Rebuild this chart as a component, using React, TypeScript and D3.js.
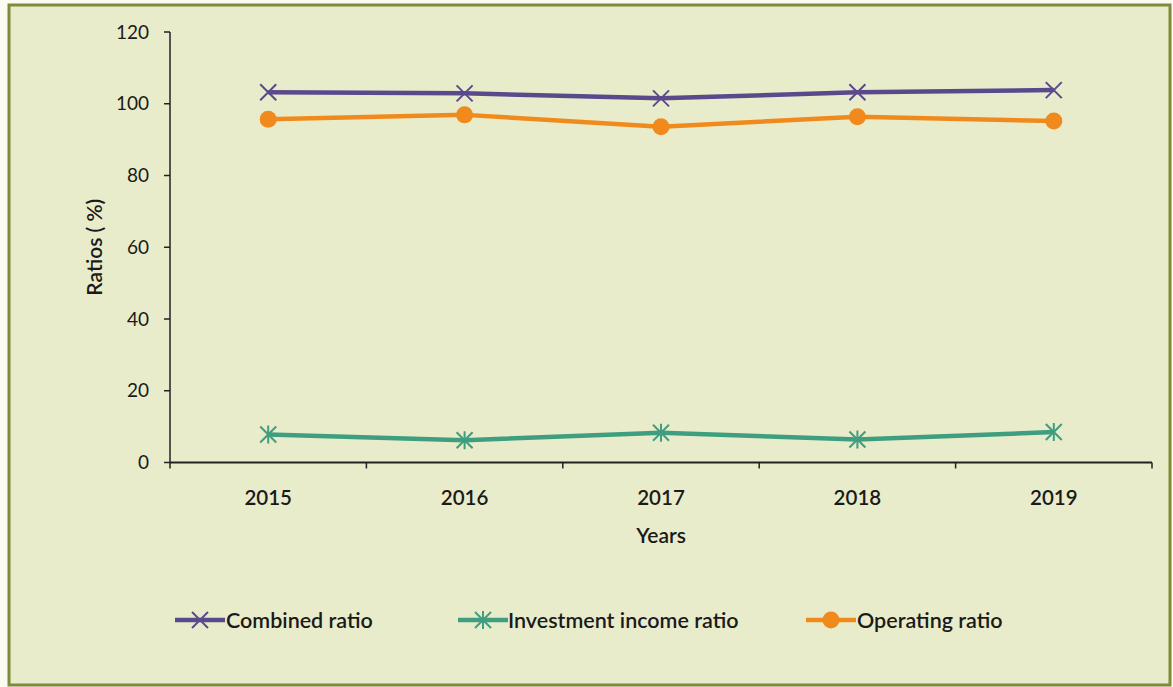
import React from "react";
import * as d3 from "d3";

const years = ["2015", "2016", "2017", "2018", "2019"];
const combinedRatio = [103.2, 102.9, 101.5, 103.2, 103.8];
const investmentIncomeRatio = [7.8, 6.2, 8.3, 6.4, 8.5];
const operatingRatio = [95.7, 96.9, 93.6, 96.4, 95.2];
const yTicks = [0, 20, 40, 60, 80, 100, 120];

const series = [
  { name: "Combined ratio", values: combinedRatio, color: "#5a4a8c", marker: "x" },
  { name: "Investment income ratio", values: investmentIncomeRatio, color: "#3e9e7f", marker: "star" },
  { name: "Operating ratio", values: operatingRatio, color: "#f08a1c", marker: "circle" },
];

const FONT = "Lato, 'Open Sans', sans-serif";

function Marker({ type, x, y, color }: { type: string; x: number; y: number; color: string }) {
  const s = 8;
  if (type === "circle") return <circle cx={x} cy={y} r={8.5} fill={color} />;
  const paths = [
    <line key="a" x1={x - s} y1={y - s} x2={x + s} y2={y + s} stroke={color} strokeWidth={2} />,
    <line key="b" x1={x - s} y1={y + s} x2={x + s} y2={y - s} stroke={color} strokeWidth={2} />,
  ];
  if (type === "star")
    paths.push(<line key="c" x1={x} y1={y - s - 1} x2={x} y2={y + s + 1} stroke={color} strokeWidth={2} />);
  return <g>{paths}</g>;
}

export default function App() {
  const W = 1173, H = 687;
  const x0 = 170, x1 = 1152;
  const yTop = 32, yBot = 462.5;
  const x = d3.scaleBand<string>().domain(years).range([x0, x1]);
  const y = d3.scaleLinear().domain([0, 120]).range([yBot, yTop]);
  const line = d3.line<number>().x((_, i) => x(years[i])! + x.bandwidth() / 2).y((v) => y(v));
  const legend = [
    { lx: 175, tx: 226 },
    { lx: 458, tx: 508 },
    { lx: 806, tx: 857 },
  ];
  return (
    <svg width={W} height={H} style={{ position: "absolute", left: 0, top: 0 }}>
      <rect x={0} y={0} width={W} height={H} fill="#fbfbf2" />
      <rect x={9} y={5} width={1161} height={680} fill="#e9ecca" stroke="#7c8c3a" strokeWidth={3} />
      {/* y axis */}
      <line x1={x0} y1={yTop} x2={x0} y2={yBot} stroke="#222" strokeWidth={1.5} />
      {yTicks.map((t) => (
        <g key={t}>
          <line x1={x0 - 6} x2={x0} y1={y(t)} y2={y(t)} stroke="#222" strokeWidth={1.5} />
          <text x={x0 - 21} y={y(t)} dy="0.35em" textAnchor="end" fontFamily={FONT} fontSize={19} fill="#1a1a1a">
            {t}
          </text>
        </g>
      ))}
      {/* x axis */}
      <line x1={x0} y1={yBot} x2={x1} y2={yBot} stroke="#222" strokeWidth={2} />
      {years.concat(["end"]).map((_, i) => {
        const xx = x0 + i * x.step();
        return <line key={i} x1={xx} x2={xx} y1={yBot} y2={yBot + 6} stroke="#222" strokeWidth={1.5} />;
      })}
      {years.map((yr) => (
        <text key={yr} x={x(yr)! + x.bandwidth() / 2} y={505} textAnchor="middle" fontFamily={FONT} fontWeight={600} fontSize={20.5} fill="#1a1a1a">
          {yr}
        </text>
      ))}
      <text x={661} y={543} textAnchor="middle" fontFamily={FONT} fontWeight={600} fontSize={21} fill="#1a1a1a">
        Years
      </text>
      <text transform={`translate(102,${(yTop + yBot) / 2}) rotate(-90)`} textAnchor="middle" fontFamily={FONT} fontWeight={600} fontSize={21} fill="#1a1a1a">
        Ratios ( %)
      </text>
      {series.map((s) => (
        <g key={s.name}>
          <path d={line(s.values)!} fill="none" stroke={s.color} strokeWidth={4.5} strokeLinejoin="round" />
          {s.values.map((v, i) => (
            <Marker key={i} type={s.marker} x={x(years[i])! + x.bandwidth() / 2} y={y(v)} color={s.color} />
          ))}
        </g>
      ))}
      {series.map((s, i) => (
        <g key={s.name}>
          <line x1={legend[i].lx} x2={legend[i].lx + 50} y1={620} y2={620} stroke={s.color} strokeWidth={4.5} />
          <Marker type={s.marker} x={legend[i].lx + 25} y={620} color={s.color} />
          <text x={legend[i].tx} y={620} dy="0.35em" fontFamily={FONT} fontWeight={600} fontSize={21.5} fill="#1a1a1a">
            {s.name}
          </text>
        </g>
      ))}
    </svg>
  );
}
